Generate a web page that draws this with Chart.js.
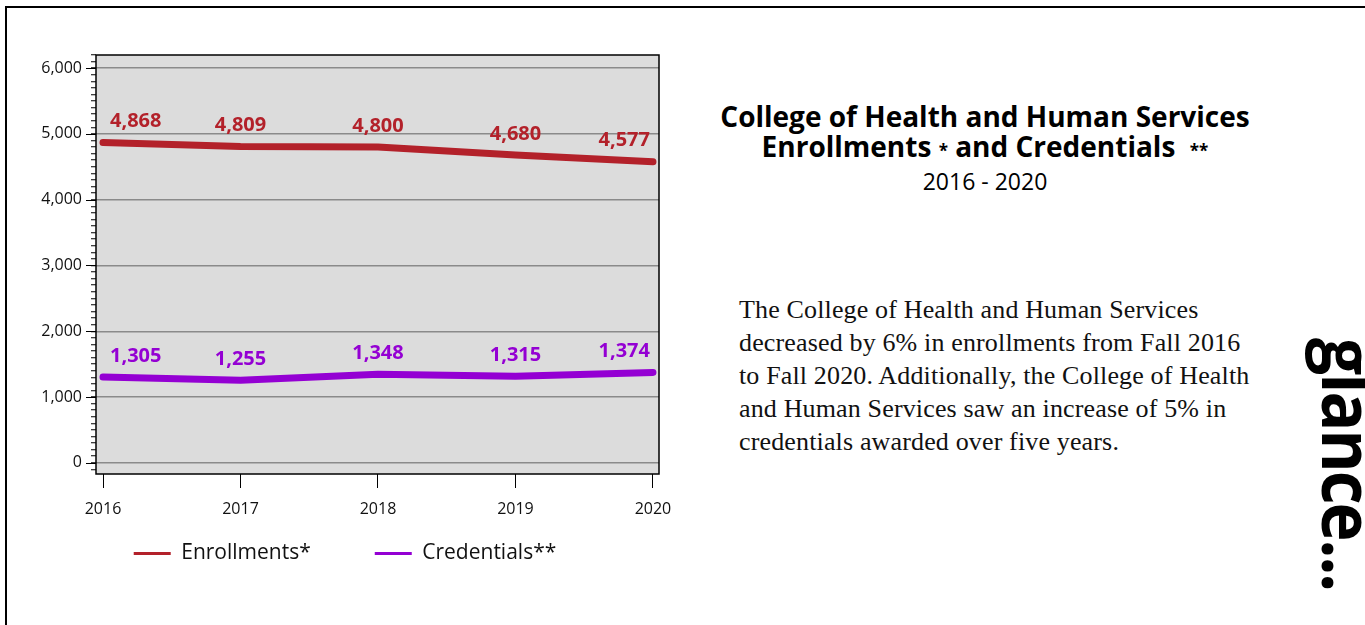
<!DOCTYPE html>
<html>
<head>
<meta charset="utf-8">
<script src="https://cdn.jsdelivr.net/npm/chart.js@4.4.1/dist/chart.umd.min.js"></script>
<style>
    body { margin: 0; width: 1365px; height: 625px; overflow: hidden; position: relative; background: #fff; }
    .page-frame { position: absolute; left: 5px; top: 6px; width: 1400px; height: 700px; border: 2px solid #000; }
    #wrap { position: absolute; left: 0; top: 0; width: 700px; height: 625px; }
    .title { position: absolute; left: 700px; top: 101px; width: 570px; text-align: center; font-family: "Open Sans", sans-serif; color: #000; }
    .title .big { font-weight: 700; font-size: 28px; line-height: 30px; }
    .title .star { font-size: 17px; }
    .title .years { font-size: 23px; line-height: 31px; }
    .note { position: absolute; left: 739px; top: 293px; font-family: "Liberation Serif", serif; font-size: 26px; line-height: 33px; letter-spacing: 0.15px; color: #111; white-space: nowrap; }
    .glance { position: absolute; left: 1386px; top: 338px; transform-origin: 0 0; transform: rotate(90deg) scaleY(1.08);
              font-family: "Open Sans", sans-serif; font-weight: 700; font-size: 66px; line-height: 66px; letter-spacing: -2px; white-space: nowrap; color: #000; }
</style>
</head>
<body>
<div class="page-frame"></div>
<div id="wrap"><canvas id="chart"></canvas></div>

<div class="title">
    <div class="big">College of Health and Human Services</div>
    <div class="big">Enrollments <span class="star">*</span> and Credentials&nbsp; <span class="star">**</span></div>
    <div class="years">2016 - 2020</div>
</div>

<div class="note">
    The College of Health and Human Services<br>
    decreased by 6% in enrollments from Fall 2016<br>
    to Fall 2020. Additionally, the College of Health<br>
    and Human Services saw an increase of 5% in<br>
    credentials awarded over five years.
</div>

<div class="glance">glance...</div>

<script>
    // ----------- DATA -----------
    const years = [2016, 2017, 2018, 2019, 2020];
    const enrollments = [4868, 4809, 4800, 4680, 4577];
    const credentials = [1305, 1255, 1348, 1315, 1374];
    const yMajorTicks = [0, 1000, 2000, 3000, 4000, 5000, 6000];

    const enrollColor = '#b3212a';
    const credColor = '#9400d3';

    // ---------- plot background, frame, long major ticks ----------
    const framePlugin = {
        id: 'frame',
        afterLayout(chart) {
            // pull the legend up under the year labels
            const lg = chart.legend;
            const h = lg.bottom - lg.top;
            lg.top = chart.chartArea.bottom + 5;
            lg.bottom = lg.top + h;
        },
        beforeDraw(chart) {
            const { ctx, chartArea: a } = chart;
            ctx.save();
            ctx.fillStyle = '#dcdcdc';
            ctx.fillRect(a.left, a.top, a.right - a.left, a.bottom - a.top);
            ctx.restore();
        },
        afterDraw(chart) {
            const { ctx, chartArea: a } = chart;
            const yScale = chart.scales.y;
            ctx.save();
            ctx.strokeStyle = '#000';
            ctx.lineWidth = 1.5;
            ctx.strokeRect(a.left, a.top, a.right - a.left, a.bottom - a.top);
            ctx.lineWidth = 1;
            yMajorTicks.forEach(v => {
                const y = Math.round(yScale.getPixelForValue(v)) + 0.5;
                ctx.beginPath();
                ctx.moveTo(a.left - 10, y);
                ctx.lineTo(a.left, y);
                ctx.stroke();
            });
            ctx.restore();
        }
    };

    // ---------- value labels above points ----------
    const valueLabels = {
        id: 'valueLabels',
        afterDatasetsDraw(chart) {
            const ctx = chart.ctx;
            ctx.save();
            ctx.font = 'bold 20px "Open Sans"';
            ctx.textBaseline = 'middle';
            chart.data.datasets.forEach((ds, di) => {
                const meta = chart.getDatasetMeta(di);
                ctx.fillStyle = ds.borderColor;
                meta.data.forEach((pt, i) => {
                    let dx = 0;
                    ctx.textAlign = 'center';
                    if (i === 0) { ctx.textAlign = 'left'; dx = 7; }
                    else if (i === meta.data.length - 1) { ctx.textAlign = 'right'; dx = -3; }
                    ctx.fillText(ds.values[i].toLocaleString('en-US'), pt.x + dx, pt.y - 21);
                });
            });
            ctx.restore();
        }
    };

    const ctx = document.getElementById('chart');
    const chart = new Chart(ctx, {
        type: 'line',
        data: {
            datasets: [
                {
                    label: 'Enrollments*',
                    values: enrollments,
                    data: years.map((yr, i) => ({ x: yr, y: enrollments[i] })),
                    borderColor: enrollColor,
                    backgroundColor: enrollColor,
                    borderWidth: 7,
                    borderCapStyle: 'round',
                    borderJoinStyle: 'round',
                    pointRadius: 0,
                    tension: 0
                },
                {
                    label: 'Credentials**',
                    values: credentials,
                    data: years.map((yr, i) => ({ x: yr, y: credentials[i] })),
                    borderColor: credColor,
                    backgroundColor: credColor,
                    borderWidth: 7,
                    borderCapStyle: 'round',
                    borderJoinStyle: 'round',
                    pointRadius: 0,
                    tension: 0
                }
            ]
        },
        options: {
            responsive: true,
            maintainAspectRatio: false,
            animation: false,
            layout: { padding: { left: 31, right: 41, top: 55, bottom: 6 } },
            scales: {
                x: {
                    type: 'linear',
                    min: 2015.949,
                    max: 2020.044,
                    afterFit: s => { s.height = 50; },
                    border: { display: false },
                    grid: { drawOnChartArea: false, tickLength: 14, tickColor: '#000', color: '#000' },
                    ticks: {
                        stepSize: 1,
                        includeBounds: false,
                        padding: 12,
                        color: '#111',
                        font: { family: 'Open Sans', size: 16 },
                        callback: v => String(Math.round(v))
                    }
                },
                y: {
                    min: -170,
                    max: 6200,
                    afterFit: s => { s.width = 65; },
                    border: { display: false },
                    grid: {
                        color: c => (c.tick && c.tick.value % 1000 === 0) ? '#8a8a8a' : 'rgba(0,0,0,0)',
                        lineWidth: 1.5,
                        tickColor: '#000',
                        tickWidth: 1,
                        tickLength: 5
                    },
                    ticks: {
                        stepSize: 100,
                        includeBounds: false,
                        autoSkip: false,
                        padding: 9,
                        color: '#111',
                        font: { family: 'Open Sans', size: 16 },
                        callback: v => (v % 1000 === 0) ? v.toLocaleString('en-US') : ''
                    }
                }
            },
            plugins: {
                tooltip: { enabled: false },
                legend: {
                    position: 'bottom',
                    maxHeight: 120,
                    labels: {
                        boxWidth: 37,
                        boxHeight: 3,
                        padding: 64,
                        color: '#111',
                        font: { family: 'Open Sans', size: 21 },
                        generateLabels: ch => ch.data.datasets.map((ds, i) => ({
                            text: ds.label,
                            fillStyle: ds.borderColor,
                            strokeStyle: ds.borderColor,
                            lineWidth: 0,
                            hidden: false,
                            datasetIndex: i,
                            fontColor: '#111'
                        }))
                    }
                }
            }
        },
        plugins: [framePlugin, valueLabels]
    });
</script>
</body>
</html>
